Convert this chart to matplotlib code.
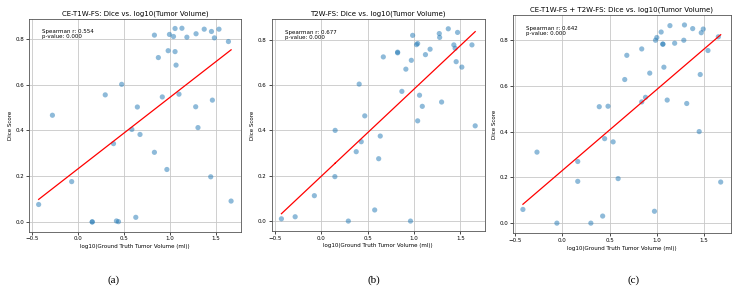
import numpy as np
import matplotlib
matplotlib.use("Agg")
import matplotlib.pyplot as plt

# panel (a): CE-T1W-FS
x_a = [-0.43, -0.28, -0.07, 0.154, 0.154, 0.296, 0.386, 0.418, 0.44, 0.475,
       0.586, 0.629, 0.646, 0.675, 0.832, 0.832, 0.875, 0.918, 0.968, 0.982,
       0.996, 1.04, 1.057, 1.057, 1.068, 1.10, 1.132, 1.186, 1.282, 1.286,
       1.307, 1.375, 1.446, 1.454, 1.464, 1.486, 1.536, 1.639, 1.668]
y_a = [0.076, 0.466, 0.176, 0.0, 0.0, 0.555, 0.342, 0.004, 0.001, 0.601,
       0.404, 0.02, 0.502, 0.382, 0.816, 0.304, 0.718, 0.546, 0.229, 0.748,
       0.819, 0.81, 0.845, 0.744, 0.685, 0.558, 0.846, 0.807, 0.503, 0.822,
       0.412, 0.842, 0.197, 0.832, 0.532, 0.804, 0.842, 0.788, 0.091]

# panel (b): T2W-FS
x_b = [-0.428, -0.28, -0.073, 0.151, 0.148, 0.293, 0.378, 0.41, 0.432, 0.47,
       0.577, 0.62, 0.637, 0.67, 0.824, 0.824, 0.87, 0.913, 0.963, 0.972,
       0.986, 1.028, 1.04, 1.04, 1.06, 1.09, 1.124, 1.174, 1.273, 1.277,
       1.298, 1.37, 1.43, 1.444, 1.455, 1.47, 1.516, 1.625, 1.66]
y_b = [0.01, 0.019, 0.112, 0.40, 0.196, 0.0, 0.306, 0.604, 0.35, 0.464,
       0.049, 0.275, 0.375, 0.724, 0.742, 0.745, 0.572, 0.67, 0.0, 0.709,
       0.819, 0.778, 0.783, 0.442, 0.555, 0.506, 0.734, 0.758, 0.827, 0.81,
       0.525, 0.848, 0.777, 0.762, 0.703, 0.832, 0.679, 0.777, 0.42]

# panel (c): CE-T1W-FS + T2W-FS
x_c = [-0.419, -0.27, -0.059, 0.162, 0.162, 0.301, 0.39, 0.426, 0.447, 0.483,
       0.537, 0.59, 0.66, 0.682, 0.84, 0.84, 0.88, 0.925, 0.975, 0.986,
       1.0, 1.046, 1.064, 1.064, 1.075, 1.11, 1.139, 1.189, 1.286, 1.293,
       1.317, 1.38, 1.449, 1.46, 1.471, 1.492, 1.542, 1.652, 1.677]
y_c = [0.06, 0.311, 0.0, 0.27, 0.183, 0.0, 0.51, 0.031, 0.37, 0.512,
       0.356, 0.195, 0.629, 0.735, 0.763, 0.531, 0.551, 0.657, 0.052, 0.801,
       0.813, 0.837, 0.784, 0.784, 0.683, 0.539, 0.865, 0.788, 0.801, 0.868,
       0.524, 0.852, 0.401, 0.651, 0.834, 0.85, 0.756, 0.816, 0.18]

titles = ["CE-T1W-FS: Dice vs. log10(Tumor Volume)",
          "T2W-FS: Dice vs. log10(Tumor Volume)",
          "CE-T1W-FS + T2W-FS: Dice vs. log10(Tumor Volume)"]
spearman_r = [0.554, 0.677, 0.642]
p_values = [0.000, 0.000, 0.000]
captions = ["(a)", "(b)", "(c)"]

fig = plt.figure(figsize=(7.35, 2.95), dpi=100)

# axes boxes in figure fractions
boxes = [[0.0395, 0.215, 0.288, 0.722],
         [0.3697, 0.218, 0.290, 0.717],
         [0.698, 0.210, 0.296, 0.739]]
cap_x = [0.154, 0.508, 0.862]

data = [(x_a, y_a), (x_b, y_b), (x_c, y_c)]

for i, (xs, ys) in enumerate(data):
    ax = fig.add_axes(boxes[i])
    xs = np.array(xs)
    ys = np.array(ys)
    ax.scatter(xs, ys, s=14, color='#1f77b4', alpha=0.5, edgecolors='none', zorder=3)
    slope, icpt = np.polyfit(xs, ys, 1)
    ax.plot(xs, slope * xs + icpt, color='red', lw=0.9, zorder=4)
    ax.set_title(titles[i], fontsize=5, pad=2.5)
    ax.set_xlabel('log10(Ground Truth Tumor Volume (ml))', fontsize=4, labelpad=2)
    ax.set_ylabel('Dice Score', fontsize=4, labelpad=2)
    ax.tick_params(labelsize=4, length=2, width=0.5, pad=1.5)
    ax.set_xticks([-0.5, 0.0, 0.5, 1.0, 1.5])
    ax.set_yticks([0.0, 0.2, 0.4, 0.6, 0.8])
    ax.grid(True, color='#c8c8c8', lw=0.6)
    ax.set_axisbelow(True)
    for sp in ax.spines.values():
        sp.set_linewidth(0.6)
        sp.set_color('#555555')
    ax.text(0.06, 0.95, 'Spearman r: %.3f\np-value: %.3f' % (spearman_r[i], p_values[i]),
            transform=ax.transAxes, fontsize=4, va='top', ha='left', linespacing=1.0)
    fig.text(cap_x[i], 0.04, captions[i], fontsize=8, family='Liberation Serif', ha='center')

fig.savefig('out.png', dpi=100)
